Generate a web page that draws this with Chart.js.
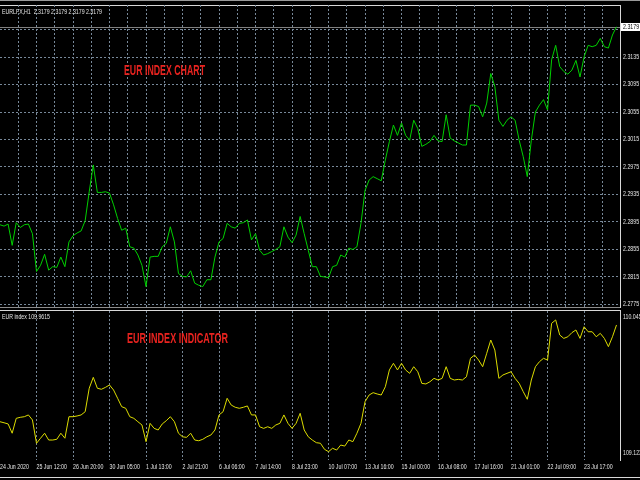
<!DOCTYPE html>
<html>
<head>
<meta charset="utf-8">
<script src="https://cdn.jsdelivr.net/npm/chart.js@4"></script>
<style>
  body { margin: 0; background: #000; }
  #wrap { position: relative; width: 640px; height: 480px; overflow: hidden; background: #000; }
  canvas { position: absolute; left: 0; }
  .rule { position: absolute; left: 0; height: 1px; }
  .txt { position: absolute; white-space: pre; transform-origin: left top; font-family: "Liberation Sans", sans-serif; }
  .small { font-size: 7px; line-height: 8px; color: #e6e6e6; }
  .red { font-size: 14px; line-height: 14px; font-weight: bold; color: #e8231f; }
</style>
</head>
<body>
<div id="wrap">
  <div class="rule" style="top:0;width:640px;background:#9a9a9a"></div>
  <div class="rule" style="top:5px;width:621px;background:#d8d8d8"></div>
  <div class="rule" style="top:307px;width:621px;background:#8c8c8c"></div>
  <div class="rule" style="top:310px;width:621px;background:#d8d8d8"></div>
  <div class="rule" style="top:477px;width:640px;background:#d8d8d8"></div>

  <canvas id="price-chart" width="640" height="312" style="top:0"></canvas>
  <canvas id="index-chart" width="640" height="173" style="top:307px"></canvas>

  <div class="txt small" style="left:2px;top:8px" data-w="100">EURLFX,H1  2.3179 2.3179 2.3179 2.3179</div>
  <div class="txt small" style="left:2px;top:313px" data-w="48">EUR index 109.9615</div>
  <div class="txt red" style="left:124px;top:63px" data-w="81">EUR INDEX CHART</div>
  <div class="txt red" style="left:127px;top:331px" data-w="101">EUR INDEX INDICATOR</div>
</div>

<script>
// price axis levels (top pane) and indicator levels (bottom pane)
const priceTicks = [2.2775, 2.2815, 2.2855, 2.2895, 2.2935, 2.2975, 2.3015, 2.3055, 2.3095, 2.3135, 2.3175];
const indexTicks = [109.123, 110.045];
const bidPrice = 2.3179;

// time axis labels, one every 9 samples
const timeLabels = [
  "24 Jun 2020", "25 Jun 12:00", "26 Jun 20:00", "30 Jun 05:00", "1 Jul 13:00", "2 Jul 21:00",
  "6 Jul 06:00", "7 Jul 14:00", "8 Jul 23:00", "10 Jul 07:00", "13 Jul 16:00", "15 Jul 00:00",
  "16 Jul 08:00", "17 Jul 16:00", "21 Jul 01:00", "22 Jul 09:00", "23 Jul 17:00"
];

// EURLFX H1 close, sampled along the chart
const eurPrice = [
  2.2891, 2.2889, 2.2892, 2.2861, 2.2894, 2.2887, 2.2891, 2.2892, 2.2878, 2.2823,
  2.2832, 2.2848, 2.2825, 2.2830, 2.2829, 2.2844, 2.2830, 2.2866, 2.2875, 2.2879,
  2.2882, 2.2897, 2.2939, 2.2978, 2.2938, 2.2938, 2.2939, 2.2937, 2.2920, 2.2900,
  2.2883, 2.2886, 2.2859, 2.2857, 2.2847, 2.2832, 2.2801, 2.2844, 2.2845, 2.2845,
  2.2859, 2.2864, 2.2888, 2.2866, 2.2820, 2.2816, 2.2815, 2.2824, 2.2806, 2.2803,
  2.2801, 2.2811, 2.2811, 2.2844, 2.2866, 2.2871, 2.2893, 2.2888, 2.2886, 2.2893,
  2.2894, 2.2898, 2.2869, 2.2878, 2.2854, 2.2847, 2.2849, 2.2852, 2.2855, 2.2859,
  2.2888, 2.2873, 2.2865, 2.2876, 2.2903, 2.2878, 2.2854, 2.2830, 2.2830, 2.2816,
  2.2815, 2.2814, 2.2830, 2.2832, 2.2847, 2.2844, 2.2857, 2.2855, 2.2859, 2.2893,
  2.2941, 2.2956, 2.2961, 2.2958, 2.2955, 2.2985, 2.3012, 2.3036, 2.3021, 2.3039,
  2.3021, 2.3014, 2.3043, 2.3031, 2.3005, 2.3008, 2.3012, 2.3021, 2.3013, 2.3012,
  2.3051, 2.3017, 2.3013, 2.3010, 2.3007, 2.3007, 2.3065, 2.3065, 2.3063, 2.3048,
  2.3068, 2.3111, 2.3092, 2.3043, 2.3034, 2.3043, 2.3048, 2.3043, 2.3014, 2.2990,
  2.2961, 2.3014, 2.3055, 2.3065, 2.3073, 2.3058, 2.3131, 2.3152, 2.3121, 2.3114,
  2.3110, 2.3116, 2.3130, 2.3106, 2.3135, 2.3152, 2.3150, 2.3152, 2.3162, 2.3150,
  2.3148, 2.3167, 2.3179
];

// EUR index indicator, same sampling
const eurIndex = [
  109.335, 109.328, 109.320, 109.257, 109.358, 109.365, 109.369, 109.381, 109.347, 109.189,
  109.223, 109.257, 109.211, 109.211, 109.216, 109.257, 109.223, 109.369, 109.369, 109.374,
  109.381, 109.403, 109.562, 109.636, 109.562, 109.555, 109.568, 109.584, 109.550, 109.494,
  109.437, 109.426, 109.369, 109.358, 109.335, 109.313, 109.200, 109.324, 109.290, 109.279,
  109.320, 109.342, 109.369, 109.335, 109.257, 109.233, 109.229, 109.257, 109.211, 109.206,
  109.216, 109.233, 109.245, 109.279, 109.381, 109.403, 109.494, 109.448, 109.433, 109.426,
  109.433, 109.442, 109.381, 109.381, 109.301, 109.290, 109.301, 109.290, 109.313, 109.324,
  109.381, 109.324, 109.290, 109.324, 109.392, 109.279, 109.233, 109.211, 109.193, 109.189,
  109.148, 109.132, 109.155, 109.143, 109.177, 109.170, 109.211, 109.200, 109.257, 109.324,
  109.471, 109.516, 109.532, 109.523, 109.516, 109.572, 109.686, 109.731, 109.686, 109.731,
  109.686, 109.663, 109.708, 109.674, 109.595, 109.591, 109.606, 109.629, 109.618, 109.629,
  109.708, 109.629, 109.618, 109.622, 109.618, 109.640, 109.765, 109.787, 109.753, 109.708,
  109.799, 109.889, 109.821, 109.629, 109.652, 109.663, 109.674, 109.629, 109.595, 109.539,
  109.487, 109.618, 109.708, 109.742, 109.765, 109.753, 110.002, 110.025, 109.923, 109.900,
  109.911, 109.939, 109.957, 109.900, 109.979, 109.945, 109.945, 109.911, 109.934, 109.900,
  109.844, 109.911, 109.991
];

const GRID = "#778899";
const TEXT = "#e6e6e6";
const FONT_CSS = '7px "Liberation Sans", sans-serif';
const SQUEEZE = 0.75;     // terminal font is narrower than Liberation Sans
const X_MAX = 152.86;     // visible samples across the plot
const LABEL_STEP = 9;     // samples between time labels

function toPoints(values) {
  return values.map((v, i) => ({ x: i, y: v }));
}

function drawSqueezed(ctx, text, x, y) {
  ctx.save();
  ctx.translate(x, y);
  ctx.scale(SQUEEZE, 1);
  ctx.fillText(text, 0, 0);
  ctx.restore();
}

// axis labels drawn from the scales' own ticks, in a narrow face
const axisLabelPlugin = {
  id: "axisLabels",
  afterDraw(chart, args, opts) {
    const { ctx, chartArea, scales } = chart;
    ctx.save();
    ctx.font = FONT_CSS;
    ctx.fillStyle = TEXT;
    ctx.textAlign = "left";
    ctx.textBaseline = "middle";
    scales.y.ticks.forEach((t, i) => {
      drawSqueezed(ctx, t.value.toFixed(opts.digits), chartArea.right + 3, scales.y.getPixelForTick(i));
    });
    if (opts.timeLabels) {
      scales.x.ticks.forEach((t, i) => {
        drawSqueezed(ctx, opts.timeLabels[i], scales.x.getPixelForTick(i), chartArea.bottom + 7);
      });
    }
    ctx.restore();
  }
};

// grey bid line plus the white price box on the right axis
const bidLinePlugin = {
  id: "bidLine",
  beforeDatasetsDraw(chart) {
    const { ctx, chartArea, scales } = chart;
    const y = Math.round(scales.y.getPixelForValue(bidPrice)) + 0.5;
    ctx.save();
    ctx.strokeStyle = "#808080";
    ctx.lineWidth = 1;
    ctx.beginPath();
    ctx.moveTo(chartArea.left, y);
    ctx.lineTo(chartArea.right, y);
    ctx.stroke();
    ctx.restore();
  },
  afterDraw(chart) {
    const { ctx, chartArea, scales } = chart;
    const y = Math.round(scales.y.getPixelForValue(bidPrice));
    ctx.save();
    ctx.fillStyle = "#ffffff";
    ctx.fillRect(chartArea.right + 1, y - 4, 20, 8);
    ctx.fillStyle = "#000000";
    ctx.font = FONT_CSS;
    ctx.textBaseline = "middle";
    drawSqueezed(ctx, bidPrice.toFixed(4), chartArea.right + 3, y);
    ctx.restore();
  }
};

const baseOptions = {
  responsive: false,
  animation: false,
  devicePixelRatio: 1,
  elements: { point: { radius: 0 }, line: { tension: 0, borderWidth: 1 } }
};

// top pane: price
new Chart(document.getElementById("price-chart"), {
  type: "line",
  data: { datasets: [{ data: toPoints(eurPrice), borderColor: "#00d000" }] },
  options: {
    ...baseOptions,
    layout: { padding: { top: 5, bottom: 5, left: 0, right: 0 } },
    plugins: { legend: { display: false }, tooltip: { enabled: false }, axisLabels: { digits: 4 } },
    scales: {
      x: {
        type: "linear", min: 0, max: X_MAX,
        grid: { color: GRID, drawTicks: false },
        border: { display: false, dash: [2, 2] },
        ticks: { display: false },
        afterBuildTicks: s => {
          const t = [];
          for (let k = 1; k * LABEL_STEP / 2 < X_MAX; k++) t.push({ value: k * LABEL_STEP / 2 });
          s.ticks = t;
        },
        afterFit: s => { s.height = 0; }
      },
      y: {
        position: "right", min: 2.277136, max: 2.321064,
        grid: { color: GRID, drawTicks: false },
        border: { display: true, color: "#d8d8d8", dash: [2, 2] },
        ticks: { display: false },
        afterBuildTicks: s => { s.ticks = priceTicks.map(v => ({ value: v })); },
        afterFit: s => { s.width = 20; }
      }
    }
  },
  plugins: [axisLabelPlugin, bidLinePlugin]
});

// bottom pane: indicator
new Chart(document.getElementById("index-chart"), {
  type: "line",
  data: { datasets: [{ data: toPoints(eurIndex), borderColor: "#dcdc00" }] },
  options: {
    ...baseOptions,
    layout: { padding: { top: 4, bottom: 3, left: 0, right: 0 } },
    plugins: { legend: { display: false }, tooltip: { enabled: false }, axisLabels: { digits: 3, timeLabels: timeLabels } },
    scales: {
      x: {
        type: "linear", min: 0, max: X_MAX,
        grid: { color: c => (c.index === 0 ? "rgba(0,0,0,0)" : GRID), drawTicks: false },
        border: { display: false, dash: [2, 2] },
        ticks: { display: false },
        afterBuildTicks: s => { s.ticks = timeLabels.map((_, i) => ({ value: i * LABEL_STEP })); },
        afterFit: s => { s.height = 17; }
      },
      y: {
        position: "right", min: 109.07554, max: 110.08568,
        grid: { display: false },
        border: { display: true, color: "#d8d8d8" },
        ticks: { display: false },
        afterBuildTicks: s => { s.ticks = indexTicks.map(v => ({ value: v })); },
        afterFit: s => { s.width = 20; }
      }
    }
  },
  plugins: [axisLabelPlugin]
});

// squeeze the overlay captions to the width they take in the terminal
document.querySelectorAll("[data-w]").forEach(el => {
  const w = el.getBoundingClientRect().width;
  if (w > 0) el.style.transform = "scaleX(" + (el.dataset.w / w) + ")";
});
</script>
</body>
</html>
